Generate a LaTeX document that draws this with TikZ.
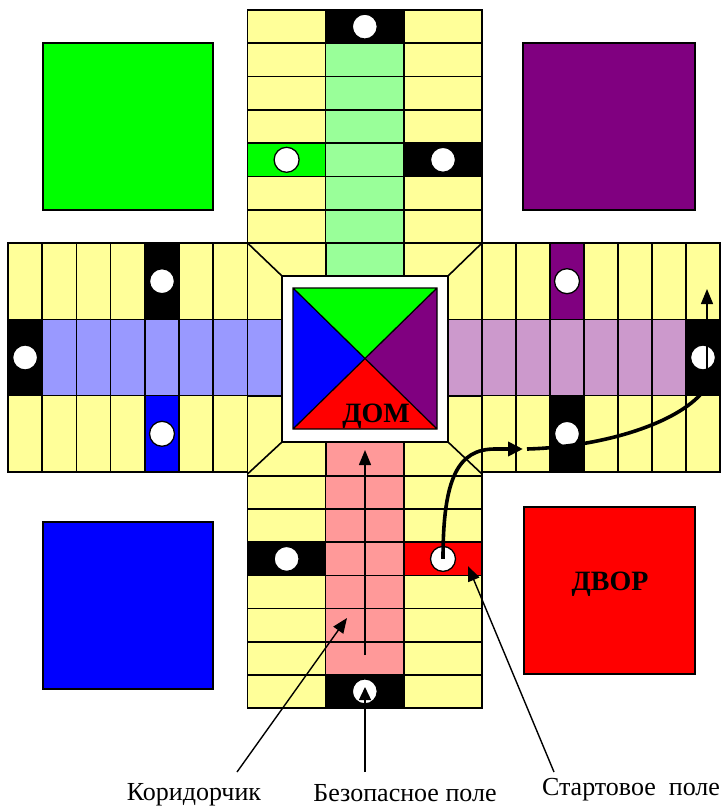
\documentclass[tikz,border=0pt]{standalone}
\usepackage{fontspec}
\setmainfont{Liberation Serif}
\usetikzlibrary{arrows.meta}
\definecolor{cellyellow}{RGB}{255,255,153}
\definecolor{bandgreen}{RGB}{153,255,153}
\definecolor{bandblue}{RGB}{153,153,255}
\definecolor{bandviolet}{RGB}{204,153,204}
\definecolor{bandred}{RGB}{255,153,153}
\definecolor{pgreen}{RGB}{0,255,0}
\definecolor{pblue}{RGB}{0,0,255}
\definecolor{pviolet}{RGB}{128,0,128}
\definecolor{pred}{RGB}{255,0,0}
\begin{document}
\begin{tikzpicture}[x=1pt,y=-1pt,
  cellline/.style={draw=black,line width=1.6pt},
  yard/.style={draw=black,line width=2pt},
  token/.style={circle,draw=black,fill=white,line width=1.3pt,minimum size=25pt,inner sep=0pt},
  pointer/.style={draw=black,line width=1.4pt,-{Triangle[length=15pt,width=12pt]}},
  route/.style={draw=black,line width=3.6pt},
  lbl/.style={font=\fontsize{26pt}{30pt}\selectfont,inner sep=0pt,anchor=base},
  title/.style={font=\fontsize{28pt}{32pt}\selectfont\bfseries,inner sep=0pt,anchor=base}]
\useasboundingbox (0,0) rectangle (724,808);

% ---- yards in the corners
\filldraw[yard,fill=pgreen]  (43,43)   rectangle (213,210);
\filldraw[yard,fill=pviolet] (523,43)  rectangle (695,210);
\filldraw[yard,fill=pblue]   (43,522)  rectangle (213,689);
\filldraw[yard,fill=pred]    (524,507) rectangle (695,674);
\node[title] (dvor) at (610,590) {ДВОР};

% ---- top arm
\fill[cellyellow] (247.5,10) rectangle (482,243);
\fill[bandgreen] (325.7,43.3) rectangle (404,243);
\fill[black] (325.7,10) rectangle (404,43.3);
\fill[pgreen] (247.5,143.2) rectangle (325.7,176.4);
\fill[black] (404,143.2) rectangle (482,176.4);
\foreach \r in {0,...,6}
  \foreach \c in {0,1,2}
    \draw[cellline] ({247.5+78.17*\c},{10+33.29*\r}) rectangle +(78.17,33.29);

% ---- bottom arm
\fill[cellyellow] (247.5,476) rectangle (482,708);
\fill[bandred] (325.7,476) rectangle (404,674.9);
\fill[black] (325.7,674.9) rectangle (404,708);
\fill[black] (247.5,542.3) rectangle (325.7,575.4);
\fill[pred] (404,542.3) rectangle (482,575.4);
\foreach \r in {0,...,6}
  \foreach \c in {0,1,2}
    \draw[cellline] ({247.5+78.17*\c},{476+33.14*\r}) rectangle +(78.17,33.14);

% ---- left arm
\fill[cellyellow] (8,243) rectangle (247.5,472);
\fill[bandblue] (42.2,319.3) rectangle (247.5,395.7);
\fill[black] (8,319.3) rectangle (42.2,395.7);
\fill[black] (144.8,243) rectangle (179.1,319.3);
\fill[pblue] (144.8,395.7) rectangle (179.1,472);
\foreach \r in {0,1,2}
  \foreach \c in {0,...,6}
    \draw[cellline] ({8+34.21*\c},{243+76.33*\r}) rectangle +(34.21,76.33);

% ---- right arm
\fill[cellyellow] (482,243) rectangle (720,472);
\fill[bandviolet] (482,319.3) rectangle (686,395.7);
\fill[black] (686,319.3) rectangle (720,395.7);
\fill[pviolet] (550,243) rectangle (584,319.3);
\fill[black] (550,395.7) rectangle (584,472);
\foreach \r in {0,1,2}
  \foreach \c in {0,...,6}
    \draw[cellline] ({482+34*\c},{243+76.33*\r}) rectangle +(34,76.33);

% ---- centre block with home
\fill[cellyellow] (247.5,243) rectangle (482,476);
\fill[bandgreen] (325.7,243) rectangle (404,276);
\fill[bandred] (325.7,442) rectangle (404,476);
\fill[bandblue] (247.5,319.3) rectangle (282,395.7);
\fill[bandviolet] (448,319.3) rectangle (482,395.7);
\draw[cellline] (325.7,243) -- (325.7,276) (404,243) -- (404,276)
                (325.7,442) -- (325.7,476) (404,442) -- (404,476)
                (247.5,319.3) -- (282,319.3) (247.5,395.7) -- (282,395.7)
                (448,319.3) -- (482,319.3) (448,395.7) -- (482,395.7);
\draw[cellline] (247.5,243) -- (282,276) (482,243) -- (448,276)
                (247.5,474) -- (282,442) (482,474) -- (448,442);
\draw[cellline] (247.5,243) rectangle (482,476);
\filldraw[cellline,fill=white] (282,276) rectangle (448,442);
\coordinate (hc) at (365,358.5);
\fill[pgreen]  (293,288) -- (437,288) -- (hc) -- cycle;
\fill[pviolet] (437,288) -- (437,429) -- (hc) -- cycle;
\fill[pred]    (437,429) -- (293,429) -- (hc) -- cycle;
\fill[pblue]   (293,429) -- (293,288) -- (hc) -- cycle;
\draw[line width=1.3pt] (293,288) rectangle (437,429)
                        (293,288) -- (437,429) (437,288) -- (293,429);
\node[title] (dom) at (376,422) {ДОМ};

% ---- tokens
\node[token] (tTop)   at (364.8,26.6) {};
\node[token] (tTopG)  at (286.6,159.8) {};
\node[token] (tTopK)  at (443,159.8) {};
\node[token] (tBot)   at (364.8,691.4) {};
\node[token] (tBotK)  at (286.6,558.9) {};
\node[token] (tBotR)  at (443,558.9) {};
\node[token] (tLeft)  at (25.1,357.5) {};
\node[token] (tLeftK) at (162,281.2) {};
\node[token] (tLeftB) at (162,433.8) {};
\node[token] (tRight) at (703,357.5) {};
\node[token] (tRightV) at (567,281.2) {};
\node[token] (tRightK) at (567,433.8) {};

% ---- moves
\coordinate (corrTail) at (365,655);
\coordinate (corrTip) at (365,450);
\draw[pointer] (corrTail) -- (corrTip);

\coordinate (exitTip) at (523,449);
\draw[route,-{Triangle[length=15pt,width=14pt]}]
  (tBotR.center) .. controls (443,478) and (458,449) .. (495,449) -- (exitTip);
\coordinate (runA) at (527,449);
\coordinate (runB) at (700,395);
\draw[route] (runA) .. controls (600,447) and (672,425) .. (runB);
\coordinate (upFoot) at (707,395);
\coordinate (upTip) at (707,289);
\draw[pointer] (upFoot) -- (upTip);

% ---- captions
\node[lbl] (kor) at (194,800) {Коридорчик};
\node[lbl] (bez) at (405,801) {Безопасное поле};
\node[lbl] (sta) at (631,795) {Стартовое\ \ поле};
\coordinate (korFoot) at (237,772);
\coordinate (korTip) at (347,618);
\coordinate (bezFoot) at (365,772);
\coordinate (bezTip) at (365,687);
\coordinate (staFoot) at (554,772);
\coordinate (staTip) at (468,566);
\draw[pointer] (korFoot) -- (korTip);
\draw[pointer,-{Triangle[length=13pt,width=12pt]}] (bezFoot) -- (bezTip);
\draw[pointer] (staFoot) -- (staTip);
\end{tikzpicture}
\end{document}
